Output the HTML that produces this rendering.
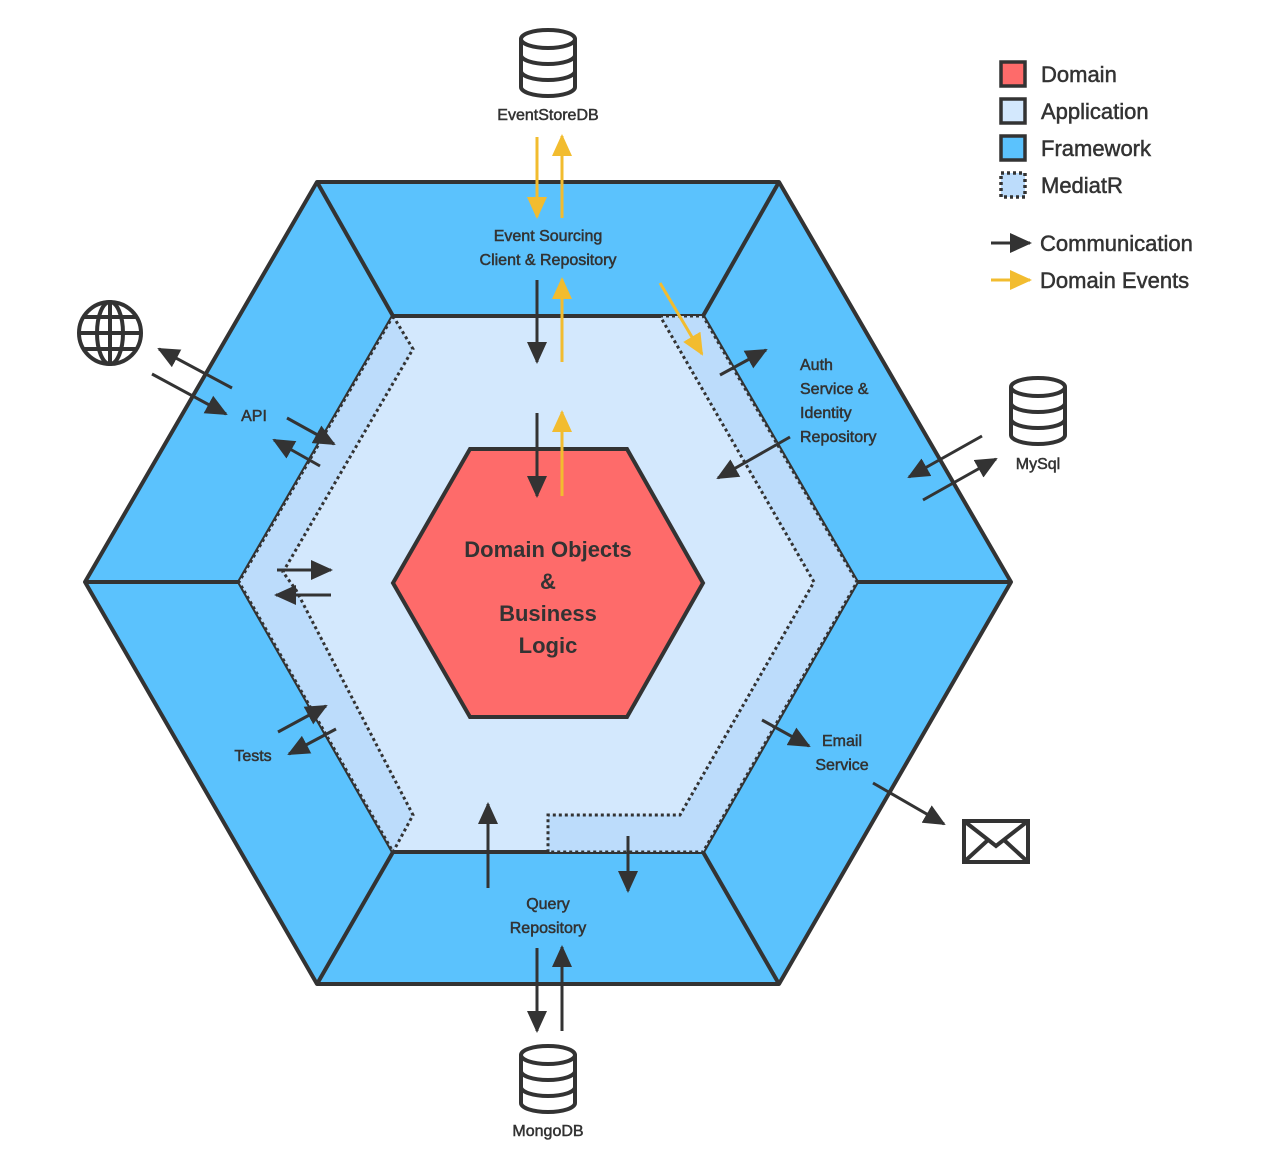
<!DOCTYPE html>
<html><head><meta charset="utf-8"><style>
html,body{margin:0;padding:0;background:#fff;}
svg{display:block;}
text{font-family:"Liberation Sans","DejaVu Sans",sans-serif;fill:#333;}
.t{stroke:#333;stroke-width:0.5;}
</style></head><body>
<svg width="1280" height="1167" viewBox="0 0 1280 1167" xmlns="http://www.w3.org/2000/svg">
<defs>
<marker id="b" viewBox="0 0 22 20" refX="20" refY="10" markerWidth="22" markerHeight="20" markerUnits="userSpaceOnUse" orient="auto">
<path d="M0,0 L22,10 L0,20 z" fill="#333"/>
</marker>
<marker id="y" viewBox="0 0 22 20" refX="20" refY="10" markerWidth="22" markerHeight="20" markerUnits="userSpaceOnUse" orient="auto">
<path d="M0,0 L22,10 L0,20 z" fill="#f2bc2f"/>
</marker>
<g id="db">
<path d="M-27,-24 L-27,24 A27,9 0 0 0 27,24 L27,-24" fill="#fff" stroke="#333" stroke-width="4"/>
<ellipse cx="0" cy="-24" rx="27" ry="9" fill="#fff" stroke="#333" stroke-width="4"/>
<path d="M-27,-8 A27,9 0 0 0 27,-8 M-27,8 A27,9 0 0 0 27,8" fill="none" stroke="#333" stroke-width="4"/>
</g>
</defs>

<polygon points="317,182 779,182 1011,582 779,984 317,984 85,582" fill="#5bc2fd" stroke="#333" stroke-width="4" stroke-linejoin="round"/>
<polygon points="393,316 703,316 857,582 703,852 393,852 239,582" fill="#d3e8fd" stroke="#333" stroke-width="4"/>
<g stroke="#333" stroke-width="4">
<line x1="317" y1="182" x2="393" y2="316"/>
<line x1="779" y1="182" x2="703" y2="316"/>
<line x1="1011" y1="582" x2="857" y2="582"/>
<line x1="779" y1="984" x2="703" y2="852"/>
<line x1="317" y1="984" x2="393" y2="852"/>
<line x1="85" y1="582" x2="239" y2="582"/>
</g>
<polygon points="393,316 413,349 283,572 296,590 413,815 393,852 239,582" fill="#bcdcfb" stroke="#333" stroke-width="3" stroke-dasharray="3,3"/>
<polygon points="660,316 703,316 857,582 703,852 548,852 548,815 680,815 814,582" fill="#bcdcfb" stroke="#333" stroke-width="3" stroke-dasharray="3,3"/>
<polygon points="470,449 627,449 703,583 627,717 470,717 393,583" fill="#fe6b6a" stroke="#333" stroke-width="4"/>
<g font-weight="bold" font-size="22" text-anchor="middle">
<text x="548" y="557">Domain Objects</text>
<text x="548" y="589">&amp;</text>
<text x="548" y="621">Business</text>
<text x="548" y="653">Logic</text>
</g>

<g stroke-width="3" fill="none">
<g stroke="#f2bc2f">
<line x1="537" y1="137" x2="537" y2="217" marker-end="url(#y)"/>
<line x1="562" y1="218" x2="562" y2="136" marker-end="url(#y)"/>
<line x1="562" y1="362" x2="562" y2="279" marker-end="url(#y)"/>
<line x1="562" y1="496" x2="562" y2="412" marker-end="url(#y)"/>
<line x1="660" y1="283" x2="702" y2="354" marker-end="url(#y)"/>
</g>
<g stroke="#333">
<line x1="537" y1="280" x2="537" y2="362" marker-end="url(#b)"/>
<line x1="537" y1="413" x2="537" y2="496" marker-end="url(#b)"/>
<line x1="720" y1="375" x2="766" y2="350" marker-end="url(#b)"/>
<line x1="790" y1="437" x2="718" y2="478" marker-end="url(#b)"/>
<line x1="982" y1="436" x2="909" y2="477" marker-end="url(#b)"/>
<line x1="923" y1="500" x2="996" y2="459" marker-end="url(#b)"/>
<line x1="232" y1="388" x2="159" y2="349" marker-end="url(#b)"/>
<line x1="152" y1="374" x2="226" y2="414" marker-end="url(#b)"/>
<line x1="287" y1="418" x2="334" y2="444" marker-end="url(#b)"/>
<line x1="320" y1="466" x2="274" y2="440" marker-end="url(#b)"/>
<line x1="277" y1="570" x2="331" y2="570" marker-end="url(#b)"/>
<line x1="331" y1="595" x2="276" y2="595" marker-end="url(#b)"/>
<line x1="278" y1="732" x2="326" y2="706" marker-end="url(#b)"/>
<line x1="336" y1="729" x2="289" y2="754" marker-end="url(#b)"/>
<line x1="762" y1="720" x2="809" y2="746" marker-end="url(#b)"/>
<line x1="873" y1="783" x2="944" y2="824" marker-end="url(#b)"/>
<line x1="488" y1="888" x2="488" y2="804" marker-end="url(#b)"/>
<line x1="628" y1="836" x2="628" y2="891" marker-end="url(#b)"/>
<line x1="537" y1="948" x2="537" y2="1031" marker-end="url(#b)"/>
<line x1="562" y1="1031" x2="562" y2="947" marker-end="url(#b)"/>
</g>
</g>

<use href="#db" x="548" y="63"/>
<use href="#db" x="1038" y="411"/>
<use href="#db" x="548" y="1079"/>
<g fill="none" stroke="#333" stroke-width="4">
<circle cx="110" cy="333" r="31"/>
<ellipse cx="110" cy="333" rx="13" ry="31"/>
<line x1="110" y1="302" x2="110" y2="364"/>
<line x1="79" y1="333" x2="141" y2="333"/>
<path d="M84,317 H136 M84,349 H136"/>
<rect x="964" y="821" width="64" height="41"/>
<path d="M964,821 L996,846 L1028,821 M964,862 L988,840 M1028,862 L1004,840"/>
</g>

<g font-size="16" text-anchor="middle" class="t">
<text x="548" y="120">EventStoreDB</text>
<text x="548" y="241">Event Sourcing</text>
<text x="548" y="265">Client &amp; Repository</text>
<text x="254" y="421">API</text>
<text x="253" y="761">Tests</text>
<text x="1038" y="469">MySql</text>
<text x="842" y="746">Email</text>
<text x="842" y="770">Service</text>
<text x="548" y="909">Query</text>
<text x="548" y="933">Repository</text>
<text x="548" y="1136">MongoDB</text>
</g>
<g font-size="16" class="t">
<text x="800" y="370">Auth</text>
<text x="800" y="394">Service &amp;</text>
<text x="800" y="418">Identity</text>
<text x="800" y="442">Repository</text>
</g>

<g stroke="#333" stroke-width="3.5">
<rect x="1001" y="62" width="24" height="24" fill="#fe6b6a"/>
<rect x="1001" y="99" width="24" height="24" fill="#d3e8fd"/>
<rect x="1001" y="136" width="24" height="24" fill="#5bc2fd"/>
<rect x="1001" y="173" width="24" height="24" fill="#bcdcfb" stroke-dasharray="3,3"/>
</g>
<g font-size="22" class="t">
<text x="1041" y="82">Domain</text>
<text x="1041" y="119">Application</text>
<text x="1041" y="156">Framework</text>
<text x="1041" y="193">MediatR</text>
<text x="1040" y="251">Communication</text>
<text x="1040" y="288">Domain Events</text>
</g>
<line x1="991" y1="243" x2="1030" y2="243" stroke="#333" stroke-width="3" marker-end="url(#b)"/>
<line x1="991" y1="280" x2="1030" y2="280" stroke="#f2bc2f" stroke-width="3" marker-end="url(#y)"/>
</svg>
</body></html>
